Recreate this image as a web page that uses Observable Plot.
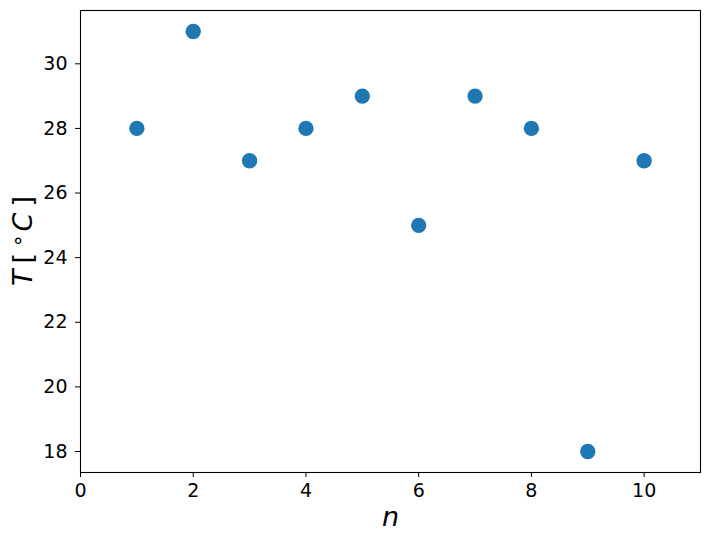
<!DOCTYPE html>
<html><head><meta charset="utf-8">
<script src="https://cdn.jsdelivr.net/npm/d3@7"></script>
<script src="https://cdn.jsdelivr.net/npm/@observablehq/plot@0.6"></script>
<style>body{margin:0;background:#fff} svg{display:block}</style>
</head><body><div id="chart"></div>
<script>
const n = [1, 2, 3, 4, 5, 6, 7, 8, 9, 10];
const T = [28, 31, 27, 28, 29, 25, 29, 28, 18, 27];
const xTicks = [0, 2, 4, 6, 8, 10];
const yTicks = [18, 20, 22, 24, 26, 28, 30];
const xLabel = "n";
const data = n.map((v, i) => ({n: v, T: T[i]}));

const chart = Plot.plot({
  width: 710, height: 544,
  marginLeft: 80, marginRight: 10, marginTop: 10, marginBottom: 72,
  style: {fontFamily: "DejaVu Sans", fontSize: "19px", background: "#fff", color: "#000"},
  x: {domain: [0, 11]},
  y: {domain: [17.35, 31.65]},
  marks: [
    Plot.axisX({ticks: xTicks, tickSize: 5, tickPadding: 6, label: null, fontSize: 19}),
    Plot.axisY({ticks: yTicks, tickSize: 5, tickPadding: 8, label: null, fontSize: 19}),
    Plot.frame({stroke: "#000", strokeWidth: 1.1}),
    Plot.dot(data, {x: "n", y: "T", r: 7.7, fill: "#1f77b4"}),
    Plot.text([xLabel], {frameAnchor: "bottom", dy: 53, fontSize: 27, fontStyle: "italic", text: d => d, fill: "#000"})
  ]
});
document.getElementById("chart").appendChild(chart);

const svg = d3.select(chart);
const yl = svg.append("text")
  .attr("transform", "translate(32,241) rotate(-90)")
  .attr("text-anchor", "middle")
  .attr("font-family", "DejaVu Sans")
  .attr("font-size", 27)
  .attr("fill", "#000");
yl.append("tspan").attr("font-style", "italic").text("T");
yl.append("tspan").attr("dx", 6).text("[");
yl.append("tspan").attr("font-size", 21).attr("dx", 7).attr("dy", -1).text("°");
yl.append("tspan").attr("font-style", "italic").attr("dx", 4).attr("dy", 1).text("C");
yl.append("tspan").attr("dx", 6).text("]");
</script>
</body></html>
